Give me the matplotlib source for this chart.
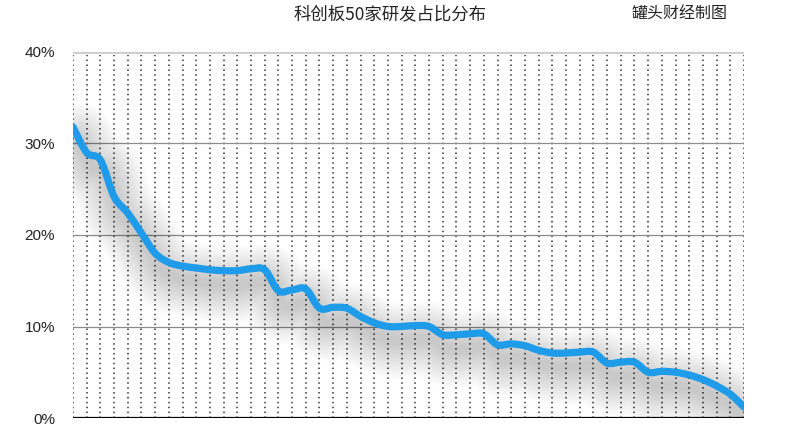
import numpy as np
import matplotlib
matplotlib.use('Agg')
import matplotlib.pyplot as plt
from matplotlib.path import Path
from matplotlib.patches import PathPatch
from matplotlib.transforms import offset_copy

#---------------------- DATA
title  = '科创板50家研发占比分布'
credit = '罐头财经制图'

# R&D share (%) of the 50 companies, sorted
rd_share = [31.8, 29.0, 28.2, 24.2, 22.4, 20.2, 18.0, 17.0, 16.6, 16.4,
            16.2, 16.1, 16.1, 16.3, 16.2, 13.9, 14.0, 14.1, 12.0, 12.1,
            12.0, 11.1, 10.4, 10.0, 10.0, 10.1, 10.0, 9.1, 9.1, 9.2,
            9.2, 8.0, 8.1, 7.9, 7.4, 7.1, 7.1, 7.2, 7.2, 6.0,
            6.1, 6.1, 5.0, 5.1, 5.0, 4.7, 4.2, 3.5, 2.6, 1.2]
yticks  = [0, 10, 20, 30, 40]
ylabels = ['0%', '10%', '20%', '30%', '40%']


def smooth_path(x, y):
    # catmull-rom through the points, drawn as cubic beziers
    x = np.asarray(x, float); y = np.asarray(y, float)
    px = np.concatenate([[x[0]], x, [x[-1]]])
    py = np.concatenate([[y[0]], y, [y[-1]]])
    verts = [(x[0], y[0])]
    codes = [Path.MOVETO]
    for i in range(1, len(px)-2):
        c1 = (px[i] + (px[i+1]-px[i-1])/6., py[i] + (py[i+1]-py[i-1])/6.)
        c2 = (px[i+1] - (px[i+2]-px[i])/6., py[i+1] - (py[i+2]-py[i])/6.)
        verts += [c1, c2, (px[i+1], py[i+1])]
        codes += [Path.CURVE4]*3
    return Path(verts, codes)

#---------------------- PLOTTING
plt.rcParams['font.family'] = ['Liberation Sans', 'Noto Sans CJK SC']

fig = plt.figure(figsize=(8.0, 4.44), dpi=100)
ax = fig.add_axes([73/800., 1-418/444., 671/800., 366/444.])

idx = np.arange(len(rd_share))

# vertical dotted lines, one per company
ax.vlines(idx, 0, 39.7, colors='#333333', linewidth=1.1, linestyles=(0, (1, 2.2)), zorder=1)

# horizontal lines
for t in yticks:
    if t == 0:
        ax.axhline(t, color='black', linewidth=1.6, zorder=2)
    elif t == 40:
        ax.axhline(t, color='#cccccc', linewidth=2.0, zorder=2)
    else:
        ax.axhline(t, color='#8c8c8c', linewidth=0.9, zorder=2)

path = smooth_path(idx, rd_share)

# soft shadow under the line
shadow = offset_copy(ax.transData, fig=fig, x=5, y=-14, units='dots')
for lw in np.linspace(6, 55, 18):
    ax.add_patch(PathPatch(path, facecolor='none', edgecolor='black', alpha=0.010,
                           linewidth=lw, capstyle='round', joinstyle='round',
                           transform=shadow, zorder=3))

ax.add_patch(PathPatch(path, facecolor='none', edgecolor='#1e9be9', linewidth=5.2,
                       capstyle='round', joinstyle='round', zorder=4))

ax.set_xlim(0, len(rd_share)-1)
ax.set_ylim(0, 40)
ax.set_xticks([])
ax.set_yticks(yticks)
ax.set_yticklabels(ylabels, fontsize=11, color='#222222')
ax.tick_params(axis='y', length=0, pad=13)
for s in ax.spines.values():
    s.set_visible(False)

fig.text(0.4875, 0.968, title, ha='center', va='center', fontsize=12.5,
         family='Noto Sans CJK SC', color='#222222')
fig.text(0.85, 0.968, credit, ha='center', va='center', fontsize=11.5,
         family='Noto Sans CJK SC', color='#222222')

plt.savefig('out.png', dpi=100)
